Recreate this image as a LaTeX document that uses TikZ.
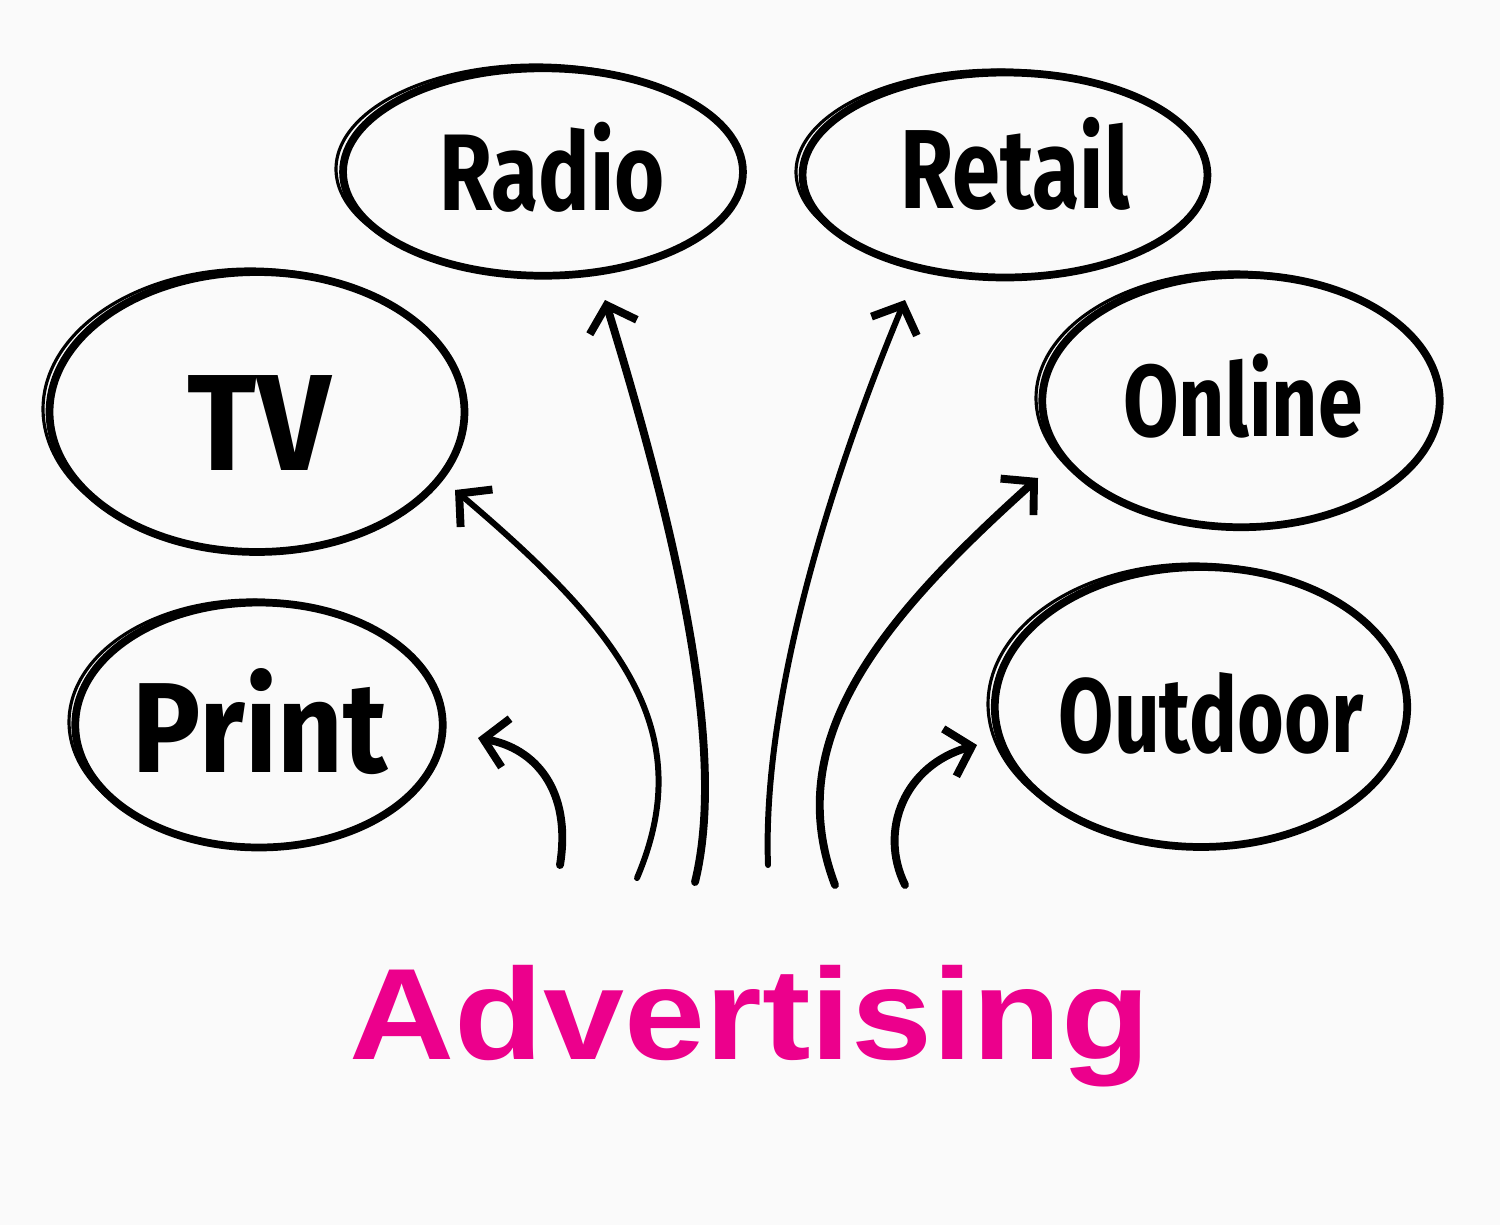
\documentclass[tikz,border=0pt]{standalone}
\usepackage{fontspec}
\usepackage{graphicx}
\newfontfamily\handfont{Fira Sans}
\newfontfamily\headfont{Liberation Sans}
\usetikzlibrary{shapes.geometric,arrows.meta}
\definecolor{paper}{HTML}{FAFAFA}
\definecolor{adpink}{HTML}{EC008C}

% label text: size in pt, horizontal squeeze, text
\newcommand\hand[3]{{\fontsize{#1}{#1}\selectfont\scalebox{#2}[1]{#3}}}
% second pencil stroke round a bubble: node, rx, ry, from, to
\newcommand\roughring[5]{%
  \draw[trace, shift={(#1.center)}] plot[domain=#4:#5, samples=50, smooth]
    ({#2*cos(\x)-7}, {#3*sin(\x)-3});}

\tikzset{
  bubble/.style={ellipse, draw, line width=4.4pt, inner sep=0pt},
  tag/.style={anchor=base, inner sep=0pt, font=\handfont\bfseries},
  trace/.style={line width=1.8pt, line cap=round},
  spoke/.style={line width=4.5pt, line cap=round,
    -{Straight Barb[length=13pt,width=28pt,line width=4.5pt]}},
}

\begin{document}
\begin{tikzpicture}[x=0.02cm, y=-0.02cm]
    \fill[paper] (0,0) rectangle (1500,1225);

    % the six media
    \node[bubble, minimum width=8cm, minimum height=4.15cm] (radio) at (543,172) {};
    \node[bubble, minimum width=8.1cm, minimum height=4.1cm] (retail) at (1005,175) {};
    \node[bubble, minimum width=8.3cm, minimum height=5.6cm] (tv) at (257,412) {};
    \node[bubble, minimum width=7.95cm, minimum height=5.05cm] (online) at (1241,401) {};
    \node[bubble, minimum width=7.35cm, minimum height=4.9cm] (print) at (259,725) {};
    \node[bubble, minimum width=8.25cm, minimum height=5.6cm] (outdoor) at (1201,707) {};

    \roughring{radio}{200}{104}{130}{300}
    \roughring{retail}{202}{102}{130}{300}
    \roughring{tv}{207}{140}{125}{295}
    \roughring{online}{198}{126}{130}{300}
    \roughring{print}{183}{122}{130}{295}
    \roughring{outdoor}{206}{140}{130}{300}

    \node[tag] (radioName) at (552,210) {\hand{62}{0.79}{Radio}};
    \node[tag] (retailName) at (1015,208) {\hand{64}{0.77}{Retail}};
    \node[tag] (tvName) at (259,470) {\hand{78}{0.94}{TV}};
    \node[tag] (onlineName) at (1243,436) {\hand{58}{0.79}{Online}};
    \node[tag] (printName) at (260,772) {\hand{73}{0.89}{Print}};
    \node[tag] (outdoorName) at (1211,752) {\hand{60}{0.76}{Outdoor}};

    \node[font=\headfont\bfseries\fontsize{74}{74}\selectfont, text=adpink, anchor=base] (ad) at (750,1059) {\scalebox{1.12}[1]{Advertising}};

    % arrow ends
    \coordinate (printTail) at (560,865);
    \coordinate (tvTail) at (637,878);
    \coordinate (radioTail) at (695,882);
    \coordinate (retailTail) at (768,865);
    \coordinate (onlineTail) at (835,885);
    \coordinate (outdoorTail) at (905,885);
    \coordinate (printTip) at (478,738);
    \coordinate (tvTip) at (455,490);
    \coordinate (radioTip) at (605,300);
    \coordinate (retailTip) at (905,300);
    \coordinate (onlineTip) at (1038,478);
    \coordinate (outdoorTip) at (977,745);

    \draw[spoke] (printTail) .. controls (572,790) and (535,748) .. (printTip);
    \draw[spoke, line width=3.4pt] (tvTail) .. controls (700,730) and (620,630) .. (tvTip);
    \draw[spoke] (radioTail) .. controls (725,760) and (685,560) .. (radioTip);
    \draw[spoke, line width=3.4pt] (retailTail) .. controls (762,700) and (830,480) .. (retailTip);
    \draw[spoke] (onlineTail) .. controls (780,740) and (880,620) .. (onlineTip);
    \draw[spoke] (outdoorTail) .. controls (878,830) and (905,765) .. (outdoorTip);
\end{tikzpicture}
\end{document}
